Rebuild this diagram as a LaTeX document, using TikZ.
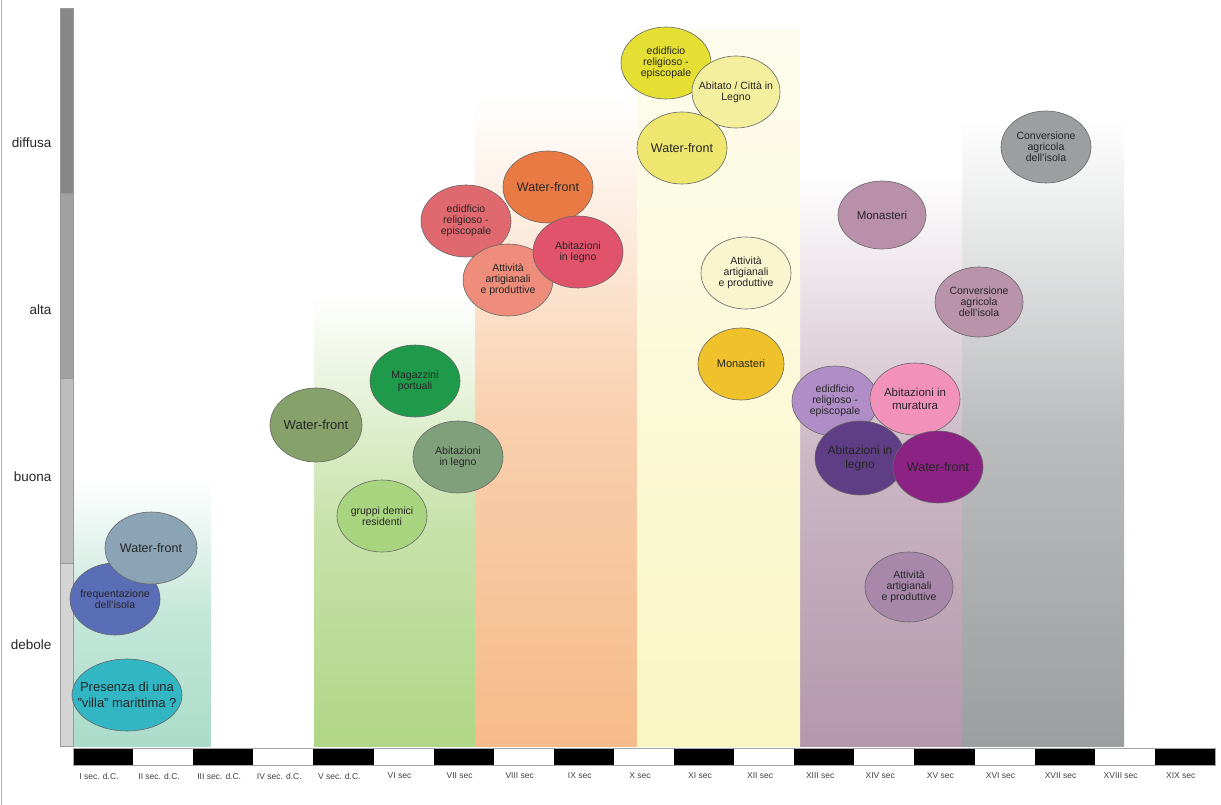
\documentclass[tikz,border=0pt]{standalone}
\usepackage{fontspec}
\setmainfont{Liberation Sans}
\usepackage{tikz}
\usetikzlibrary{shapes.geometric}

% band colours
\definecolor{bandI}{HTML}{ABDCC9}
\definecolor{bandII}{HTML}{B0D687}
\definecolor{bandIII}{HTML}{F6BB8A}
\definecolor{bandIV}{HTML}{F9F6C3}
\definecolor{bandV}{HTML}{B597AB}
\definecolor{bandVI}{HTML}{9C9FA0}
% bubble colours
\definecolor{cVilla}{HTML}{33B6C4}
\definecolor{cFreq}{HTML}{5A6DB7}
\definecolor{cWfA}{HTML}{8AA4B6}
\definecolor{cWfB}{HTML}{86A26A}
\definecolor{cMagaz}{HTML}{1F9A4B}
\definecolor{cAbitB}{HTML}{80A07C}
\definecolor{cGruppi}{HTML}{A9D47F}
\definecolor{cEdifC}{HTML}{E0696F}
\definecolor{cWfC}{HTML}{EA7A44}
\definecolor{cAttC}{HTML}{EE8D7B}
\definecolor{cAbitC}{HTML}{E1536B}
\definecolor{cEdifD}{HTML}{E5DE33}
\definecolor{cAbitatoD}{HTML}{F4EF9F}
\definecolor{cWfD}{HTML}{EEE66E}
\definecolor{cAttD}{HTML}{F8F5CF}
\definecolor{cMonD}{HTML}{EFC12A}
\definecolor{cMonE}{HTML}{B990AA}
\definecolor{cConvE}{HTML}{B993AA}
\definecolor{cEdifE}{HTML}{B08DC7}
\definecolor{cMurE}{HTML}{F292BB}
\definecolor{cLegnoE}{HTML}{5F3E85}
\definecolor{cWfE}{HTML}{8C2384}
\definecolor{cAttE}{HTML}{A887AB}
\definecolor{cConvF}{HTML}{9D9E9F}

\tikzset{
  bubble/.style={ellipse, draw=black!60, line width=0.6pt, align=center,
    inner xsep=-8pt, inner ysep=-4pt, minimum width=90pt, minimum height=72pt,
    text=black!85, font=\fontsize{10.5}{11}\selectfont},
  bigtxt/.style={font=\fontsize{12.5}{14}\selectfont},
  levellabel/.style={anchor=east, font=\fontsize{13.5}{15}\selectfont, text=black!85},
  seclabel/.style={font=\fontsize{8.5}{10}\selectfont, text=black!75}
}

\begin{document}
\begin{tikzpicture}[x=1pt, y=-1pt]
    \useasboundingbox (0,0) rectangle (1221,805);
    \fill[white] (0,0) rectangle (1221,805);
    \draw[gray!60, line width=0.8pt] (1.5,0) -- (1.5,805);

    % Coloured bands (one per period, fading upwards)
    \foreach \xa/\xb/\yt/\c in {73/211/480/bandI, 314/475/295/bandII, 475/637/95/bandIII,
                                962/1124/120/bandVI, 800/962/175/bandV} {
        \shade[top color=white, bottom color=\c, middle color=\c!70!white] (\xa,\yt) rectangle (\xb,746);
    }
    \shade[top color=bandIV!30!white, bottom color=bandIV] (637,30) rectangle (800,746);

    % Level scale
    \foreach \ya/\yb/\g in {8/193/47, 193/378/37, 378/563/26, 563/746/17} {
        \filldraw[fill=black!\g!white, draw=black!40, line width=0.4pt] (60,\ya) rectangle (73,\yb);
    }
    \foreach \lab/\y in {diffusa/143, alta/310, buona/477, debole/645} {
        \node[levellabel] (lev-\lab) at (55,\y) {\lab};
    }

    % Time axis
    \foreach \i in {0,2,...,18} {
        \fill[black] ({73+60.1*\i},748) rectangle ++(60.1,17);
    }
    \draw[gray!70, line width=0.6pt] (73,748) rectangle (1215,765);
    \foreach \lab [count=\i from 0] in {I sec. d.C., II sec. d.C., III sec. d.C., IV sec. d.C.,
        V sec. d.C., VI sec, VII sec, VIII sec, IX sec, X sec, XI sec, XII sec, XIII sec,
        XIV sec, XV sec, XVI sec, XVII sec, XVIII sec, XIX sec} {
        \node[seclabel] (sec\i) at ({99+60.1*\i},776) {\lab};
    }

    % I - IV sec. d.C.
    \node[bubble, fill=cFreq] (freqA) at (115,599) {frequentazione\\dell'isola};
    \node[bubble, fill=cWfA, minimum width=92pt, bigtxt] (wfA) at (151,548) {Water-front};
    \node[bubble, fill=cVilla, minimum width=110pt, inner xsep=-14pt, font=\fontsize{13}{16}\selectfont]
        (villaA) at (127,695) {Presenza di una\\"villa" marittima ?};

    % V - VII sec
    \node[bubble, fill=cWfB, minimum width=92pt, minimum height=74pt, font=\fontsize{13}{15}\selectfont]
        (wfB) at (316,425) {Water-front};
    \node[bubble, fill=cMagaz] (magazB) at (415,381) {Magazzini\\portuali};
    \node[bubble, fill=cAbitB] (abitB) at (458,457) {Abitazioni\\in legno};
    \node[bubble, fill=cGruppi] (gruppiB) at (382,516) {gruppi demici\\residenti};

    % VIII - IX sec
    \node[bubble, fill=cEdifC] (edifC) at (466,221) {edidficio\\religioso -\\episcopale};
    \node[bubble, fill=cWfC, bigtxt] (wfC) at (548,187) {Water-front};
    \node[bubble, fill=cAttC] (attC) at (508,280) {Attività\\artigianali\\e produttive};
    \node[bubble, fill=cAbitC] (abitC) at (578,252) {Abitazioni\\in legno};

    % X - XII sec
    \node[bubble, fill=cEdifD] (edifD) at (666,63) {edidficio\\religioso -\\episcopale};
    \node[bubble, fill=cAbitatoD, minimum width=88pt] (abitatoD) at (736,92) {Abitato / Città in\\Legno};
    \node[bubble, fill=cWfD, bigtxt] (wfD) at (682,148) {Water-front};
    \node[bubble, fill=cAttD] (attD) at (746,273) {Attività\\artigianali\\e produttive};
    \node[bubble, fill=cMonD, minimum width=86pt, font=\fontsize{11}{12}\selectfont] (monD) at (741,364) {Monasteri};

    % XIII - XV sec
    \node[bubble, fill=cMonE, minimum width=88pt, minimum height=68pt, font=\fontsize{11.5}{12}\selectfont]
        (monE) at (882,215) {Monasteri};
    \node[bubble, fill=cConvE, minimum width=88pt, minimum height=70pt] (convE) at (979,302) {Conversione\\agricola\\dell'isola};
    \node[bubble, fill=cEdifE, minimum width=86pt, minimum height=70pt] (edifE) at (835,401) {edidficio\\religioso -\\episcopale};
    \node[bubble, fill=cMurE, font=\fontsize{11.5}{13}\selectfont] (murE) at (915,399) {Abitazioni in\\muratura};
    \node[bubble, fill=cLegnoE, minimum height=74pt, font=\fontsize{12}{14}\selectfont]
        (legnoE) at (860,458) {Abitazioni in\\legno};
    \node[bubble, fill=cWfE, bigtxt] (wfE) at (938,467) {Water-front};
    \node[bubble, fill=cAttE, minimum width=88pt, minimum height=70pt] (attE) at (909,587) {Attività\\artigianali\\e produttive};

    % XVI - XVII sec
    \node[bubble, fill=cConvF] (convF) at (1046,147) {Conversione\\agricola\\dell'isola};
\end{tikzpicture}
\end{document}
